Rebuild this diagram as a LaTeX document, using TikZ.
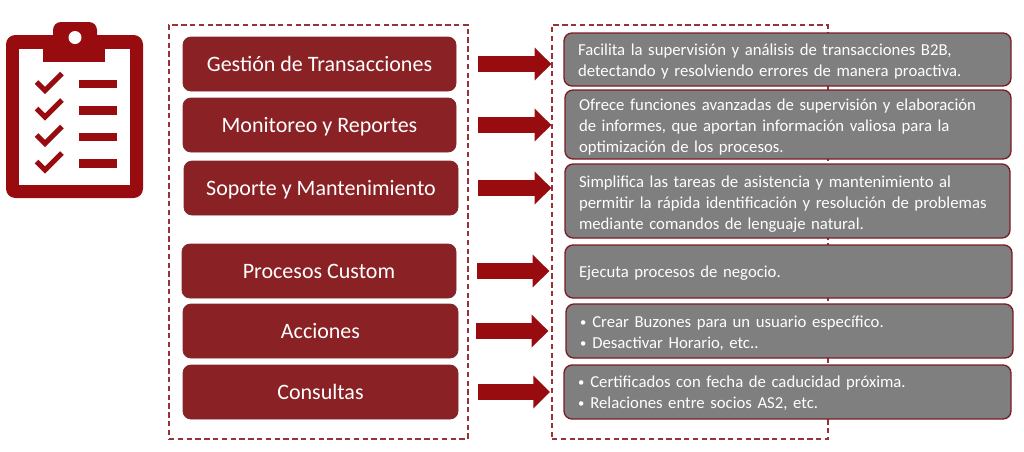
\documentclass[tikz,border=0pt]{standalone}
\usepackage{fontspec}
\setmainfont{Carlito}
\usetikzlibrary{arrows.meta}
\definecolor{wine}{HTML}{8A2124}
\definecolor{wineline}{HTML}{7A1C24}
\definecolor{softline}{HTML}{7E2A2E}
\definecolor{arrowred}{HTML}{980C10}
\definecolor{iconred}{HTML}{980C10}
\definecolor{greybox}{HTML}{7F7F7F}
\definecolor{frameline}{HTML}{963238}
\tikzset{
  x=0.75pt,y=-0.75pt,
  framebox/.style={draw=frameline,line width=1pt,dash pattern=on 4pt off 2.6pt,minimum width=#1*0.75pt,inner sep=0pt},
  leftbox/.style={draw=softline,line width=0.6pt,fill=wine,rounded corners=6pt,text=white,font=\fontsize{16.5}{19}\selectfont,inner sep=0pt,align=center,text height=14pt,text depth=2.7pt},
  rightbox/.style={draw=wineline,line width=1pt,fill=greybox,rounded corners=6pt,inner sep=0pt},
  righttext/.style={text=white,font=\fontsize{12.55}{15.75}\selectfont,inner xsep=10.5pt,inner ysep=0pt,align=left},
  bigarrow/.style={draw=arrowred,line width=11.5pt,-{Triangle[length=12.5pt,width=24pt,fill=arrowred]}},
  iconpart/.style={fill=iconred,draw=none},
  checkmark/.style={draw=iconred,line width=3.9pt},
}
\newcommand{\lbox}[6]{\node[leftbox,minimum width=(#4-#3)*0.75pt,minimum height=(#6-#5)*0.75pt] (#1) at ({(#3+#4)/2},{(#5+#6)/2}) {#2};}
% name, text, x1, x2, y1, y2, text drop in px
\newcommand{\rbox}[7]{\node[rightbox,minimum width=(#4-#3)*0.75pt,minimum height=(#6-#5)*0.75pt] (#1) at ({(#3+#4)/2},{(#5+#6)/2}) {};
  \node[righttext,text width=(#4-#3)*0.75pt-21pt] (#1t) at ([yshift=-#7*0.75pt]#1.center) {#2};}
\newcommand{\dotitem}{\raisebox{0.7pt}{\fontsize{9.5}{10}\selectfont•}\hspace{4.5pt}}
\begin{document}
\begin{tikzpicture}
\useasboundingbox (0,0) rectangle (1024,451);
% icon
\fill[iconpart,rounded corners=7pt] (6,35) rectangle (143,198);
\fill[iconpart,rounded corners=6pt] (53,22) rectangle (97,50);
\fill[white] (19,49) rectangle (130,185);
\fill[iconpart] (43,40) rectangle (105,62);
\fill[white] (75,37.5) circle[radius=6.5];
\foreach \dy in {0,26.5,53,79.5}{
  \draw[checkmark] (36.5,{82+\dy}) -- (45,{90.5+\dy}) -- (62,{73.5+\dy});
  \fill[iconpart] (79,{79.5+\dy}) rectangle (117,{88+\dy});
}
% frames
\node[framebox=299,minimum height=414*0.75pt] (lf) at (318.5,232) {};
\node[framebox=276,minimum height=414*0.75pt] (rf) at (690,232) {};
% left boxes
\lbox{g}{Gestión de Transacciones}{183}{456}{37}{91}
\lbox{m}{Monitoreo y Reportes}{183}{456}{98}{152}
\lbox{s}{Soporte y Mantenimiento}{184}{458}{161}{215}
\lbox{p}{Procesos Custom}{182}{456}{244}{298}
\lbox{a}{Acciones}{183}{458}{304}{358}
\lbox{c}{Consultas}{183}{458}{365}{419}
% right boxes
\rbox{r1}{Facilita la supervisión y análisis de transacciones B2B,\\detectando y resolviendo errores de manera proactiva.}{564}{1011}{33}{86}{2}
\rbox{r2}{Ofrece funciones avanzadas de supervisión y elaboración\\de informes, que aportan información valiosa para la\\optimización de los procesos.}{565}{1011}{90}{159}{2.5}
\rbox{r3}{Simplifica las tareas de asistencia y mantenimiento al\\permitir la rápida identificación y resolución de problemas\\mediante comandos de lenguaje natural.}{565}{1010}{164}{238}{3.5}
\rbox{r4}{Ejecuta procesos de negocio.}{565}{1012}{245}{298}{2}
\rbox{r5}{\dotitem Crear Buzones para un usuario específico.\\\dotitem Desactivar Horario, etc..}{566}{1013}{304}{358}{2}
\rbox{r6}{\dotitem Certificados con fecha de caducidad próxima.\\\dotitem Relaciones entre socios AS2, etc.}{564}{1011}{365}{419}{1}
% arrows: left/right/start gap/end gap/vertical offset
\foreach \l/\r/\s/\e/\o in {g/r1/16.5/9/0.4,m/r2/16.5/9.75/0.2,s/r3/15/9.75/-0.75,p/r4/15.75/11.25/0.75,a/r5/13.5/12.75/0,c/r6/15/10/-1.5}{
  \draw[bigarrow,shorten <=\s pt,shorten >=\e pt,yshift=\o pt] (\l.east) -- (\l.east -| \r.west);
}
\end{tikzpicture}
\end{document}
